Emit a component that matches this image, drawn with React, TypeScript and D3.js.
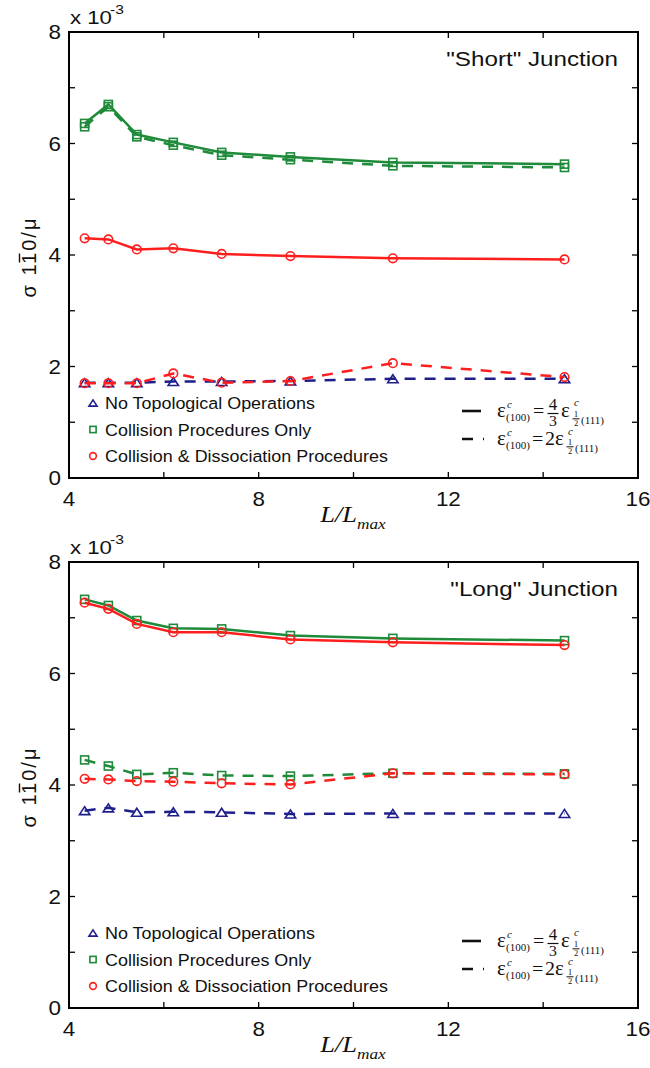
import React from "react";
import * as d3 from "d3";

const xValues = [4.33, 4.83, 5.43, 6.2, 7.22, 8.67, 10.83, 14.45];

// "Short" junction
const shortNoTopo = [1.71, 1.71, 1.71, 1.73, 1.73, 1.74, 1.78, 1.78];
const shortCollSolid = [6.36, 6.7, 6.16, 6.02, 5.84, 5.76, 5.66, 5.63];
const shortCollDashed = [6.3, 6.66, 6.12, 5.97, 5.79, 5.71, 5.6, 5.57];
const shortDissSolid = [4.3, 4.28, 4.1, 4.12, 4.02, 3.98, 3.94, 3.92];
const shortDissDashed = [1.7, 1.7, 1.7, 1.875, 1.71, 1.74, 2.06, 1.81];

// "Long" junction
const longNoTopo = [3.54, 3.59, 3.51, 3.52, 3.51, 3.48, 3.49, 3.49];
const longCollSolid = [7.33, 7.22, 6.95, 6.81, 6.8, 6.68, 6.63, 6.59];
const longCollDashed = [4.45, 4.34, 4.19, 4.22, 4.17, 4.16, 4.21, 4.2];
const longDissSolid = [7.27, 7.16, 6.89, 6.74, 6.74, 6.61, 6.56, 6.51];
const longDissDashed = [4.11, 4.1, 4.07, 4.06, 4.03, 4.01, 4.21, 4.19];

const xTicks = [4, 6, 8, 10, 12, 14, 16];
const xTickLabels = [4, 8, 12, 16];
const yTicks = [0, 1, 2, 3, 4, 5, 6, 7, 8];
const yTickLabels = [0, 2, 4, 6, 8];

const legendLabels = [
  "No Topological Operations",
  "Collision Procedures Only",
  "Collision & Dissociation Procedures",
];

const BLUE = "#1f1f8c";
const GREEN = "#1e8a3a";
const RED = "#ff1e1e";
const SANS = "'Liberation Sans', Arial, Helvetica, sans-serif";
const SERIF = "'Liberation Serif', 'Times New Roman', serif";

const LEFT = 69;
const RIGHT = 638;
const PH = 446;

function T({ x, y, sx = 1.2, anchor = "start", size, family = SANS, italic = false, fill = "#111", children }: any) {
  return (
    <text
      transform={`translate(${x},${y}) scale(${sx},1)`}
      textAnchor={anchor}
      fontSize={size}
      fontFamily={family}
      fontStyle={italic ? "italic" : "normal"}
      fill={fill}
    >
      {children}
    </text>
  );
}

function Marker({ kind, x, y, s = 1 }: any) {
  if (kind === "tri") {
    const w = 5.2 * s, h = 8 * s;
    return (
      <path
        d={`M${x - w},${y + h / 2}L${x + w},${y + h / 2}L${x},${y - h / 2}Z`}
        fill="none"
        stroke={BLUE}
        strokeWidth={1.6}
      />
    );
  }
  if (kind === "sq") {
    const a = 4 * s;
    return <rect x={x - a} y={y - a} width={2 * a} height={2 * a} fill="none" stroke={GREEN} strokeWidth={1.6} />;
  }
  return <circle cx={x} cy={y} r={4.3 * s} fill="none" stroke={RED} strokeWidth={1.6} />;
}

function Half({ x, cy }: any) {
  return (
    <g>
      <T x={x} y={cy + 6} sx={1} anchor="middle" size={9} family={SERIF}>1</T>
      <line x1={x - 3.5} x2={x + 3.5} y1={cy + 7.8} y2={cy + 7.8} stroke="#111" strokeWidth={1} />
      <T x={x} y={cy + 15} sx={1} anchor="middle" size={8.5} family={SERIF}>2</T>
    </g>
  );
}

function Equations({ cy }: any) {
  const c2 = cy + 28;
  return (
    <g fill="#111">
      <line x1={462} x2={481} y1={cy} y2={cy} stroke="#111" strokeWidth={2.6} />
      <T x={497} y={cy + 6} sx={1.05} size={20} family={SERIF}>ε</T>
      <T x={507} y={cy - 3} sx={1} size={11} family={SERIF} italic>c</T>
      <T x={506} y={cy + 10} sx={1} size={11} family={SERIF}>(100)</T>
      <T x={533} y={cy + 6} sx={1.05} size={19} family={SERIF}>=</T>
      <T x={553} y={cy - 1} sx={1.05} anchor="middle" size={16} family={SERIF}>4</T>
      <line x1={547.5} x2={558.5} y1={cy + 2.5} y2={cy + 2.5} stroke="#111" strokeWidth={1.2} />
      <T x={553} y={cy + 15} sx={1.05} anchor="middle" size={15} family={SERIF}>3</T>
      <T x={561} y={cy + 6} sx={1.05} size={20} family={SERIF}>ε</T>
      <T x={574} y={cy - 5} sx={1} size={11} family={SERIF} italic>c</T>
      <Half x={576} cy={cy} />
      <T x={581} y={cy + 13} sx={1} size={11} family={SERIF}>(111)</T>

      <path d={`M462,${c2}L485,${c2}`} stroke="#111" strokeWidth={2.6} strokeDasharray="11,10,1,10" />
      <T x={497} y={c2 + 6} sx={1.05} size={20} family={SERIF}>ε</T>
      <T x={507} y={c2 - 3} sx={1} size={11} family={SERIF} italic>c</T>
      <T x={506} y={c2 + 10} sx={1} size={11} family={SERIF}>(100)</T>
      <T x={532} y={c2 + 6} sx={1.05} size={19} family={SERIF}>=</T>
      <T x={545} y={c2 + 6} sx={1.05} size={19} family={SERIF}>2</T>
      <T x={555} y={c2 + 6} sx={1.05} size={20} family={SERIF}>ε</T>
      <T x={568} y={c2 - 4} sx={1} size={11} family={SERIF} italic>c</T>
      <Half x={570} cy={c2} />
      <T x={575} y={c2 + 13} sx={1} size={11} family={SERIF}>(111)</T>
    </g>
  );
}

function YLabel({ cy }: any) {
  return (
    <g transform={`translate(36,${cy}) rotate(-90)`}>
      <text x={0} y={0} textAnchor="middle" fontSize={20} fontFamily={SANS} letterSpacing={2} fill="#111">
        σ 110/μ
      </text>
      <line x1={-5.5} x2={3.5} y1={-16.5} y2={-16.5} stroke="#111" strokeWidth={1.4} />
    </g>
  );
}

function Panel({ top, title, noTopo, collSolid, collDashed, dissSolid, dissDashed }: any) {
  const x = d3.scaleLinear().domain([4, 16]).range([LEFT, RIGHT]);
  const y = d3.scaleLinear().domain([0, 8]).range([top + PH, top]);
  const bottom = top + PH;
  const line = d3
    .line<number>()
    .x((_, i) => x(xValues[i]))
    .y((d) => y(d));
  const series = [
    { data: noTopo, color: BLUE, dash: "11,9", kind: "tri" },
    { data: collSolid, color: GREEN, dash: null, kind: "sq" },
    { data: collDashed, color: GREEN, dash: "11,9", kind: "sq" },
    { data: dissSolid, color: RED, dash: null, kind: "circ" },
    { data: dissDashed, color: RED, dash: "11,9", kind: "circ" },
  ];
  const legendY = bottom - 75;
  return (
    <g>
      {series.map((s, k) => (
        <g key={k}>
          <path
            d={line(s.data) || ""}
            fill="none"
            stroke={s.color}
            strokeWidth={2.5}
            strokeDasharray={s.dash || undefined}
          />
          {s.data.map((v: number, i: number) => (
            <Marker key={i} kind={s.kind} x={x(xValues[i])} y={y(v)} />
          ))}
        </g>
      ))}
      <rect x={LEFT} y={top} width={RIGHT - LEFT} height={PH} fill="none" stroke="#000" strokeWidth={2} />
      {xTicks.map((t) => (
        <g key={"xt" + t}>
          <line x1={x(t)} x2={x(t)} y1={bottom} y2={bottom - 6} stroke="#000" strokeWidth={1.3} />
          <line x1={x(t)} x2={x(t)} y1={top} y2={top + 6} stroke="#000" strokeWidth={1.3} />
        </g>
      ))}
      {yTicks.map((t) => (
        <g key={"yt" + t}>
          <line x1={LEFT} x2={LEFT + 6} y1={y(t)} y2={y(t)} stroke="#000" strokeWidth={1.3} />
          <line x1={RIGHT} x2={RIGHT - 6} y1={y(t)} y2={y(t)} stroke="#000" strokeWidth={1.3} />
        </g>
      ))}
      {xTickLabels.map((t) => (
        <T key={"xl" + t} x={x(t)} y={bottom + 28} anchor="middle" size={19.5} sx={1.15}>
          {t}
        </T>
      ))}
      {yTickLabels.map((t) => (
        <T key={"yl" + t} x={61} y={y(t) + 7} anchor="end" size={19.5} sx={1.15}>
          {t}
        </T>
      ))}
      <T x={70} y={top - 8} size={18.5} sx={1.2}>x 10</T>
      <T x={110} y={top - 18} size={13} sx={1.2}>-3</T>
      <T x={RIGHT - 20} y={top + 34} anchor="end" size={20.5} sx={1.18}>{title}</T>
      <YLabel cy={top + 225} />
      <g transform={`translate(353,${bottom + 44}) scale(1.15,1)`}>
        <text textAnchor="middle" fontFamily={SERIF} fontStyle="italic" fontSize={23} fill="#111">
          L/L<tspan fontSize={15} dy={7}>max</tspan>
        </text>
      </g>
      {legendLabels.map((lab, i) => {
        const ly = legendY + i * 26.5;
        const kind = ["tri", "sq", "circ"][i];
        return (
          <g key={lab}>
            <Marker kind={kind} x={93} y={ly} s={0.78} />
            <T x={105} y={ly + 6} size={16.3} sx={1.1}>
              {lab}
            </T>
          </g>
        );
      })}
      <Equations cy={legendY + 8} />
    </g>
  );
}

export default function App() {
  return (
    <svg width={650} height={1068} style={{ position: "absolute", left: 0, top: 0, background: "#fff" }}>
      <rect width={650} height={1068} fill="#fff" />
      <Panel
        top={32}
        title={'"Short" Junction'}
        noTopo={shortNoTopo}
        collSolid={shortCollSolid}
        collDashed={shortCollDashed}
        dissSolid={shortDissSolid}
        dissDashed={shortDissDashed}
      />
      <Panel
        top={562}
        title={'"Long" Junction'}
        noTopo={longNoTopo}
        collSolid={longCollSolid}
        collDashed={longCollDashed}
        dissSolid={longDissSolid}
        dissDashed={longDissDashed}
      />
    </svg>
  );
}
